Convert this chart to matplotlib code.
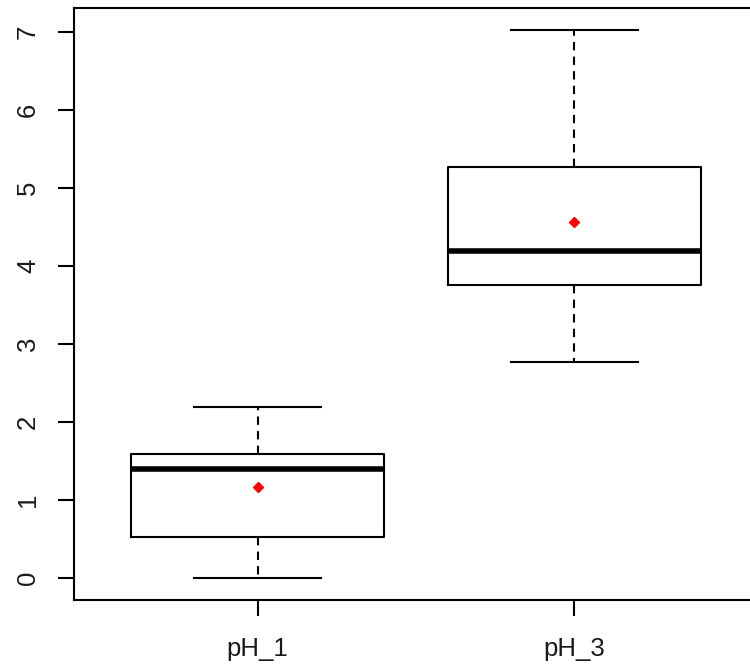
import matplotlib
matplotlib.use("Agg")
import matplotlib.pyplot as plt

plt.rcParams['font.family'] = ['Liberation Sans', 'DejaVu Sans']

# five-number summaries
labels = ["pH_1", "pH_3"]
whislo = [0.0, 2.77]
q1 = [0.53, 3.76]
med = [1.40, 4.20]
q3 = [1.59, 5.27]
whishi = [2.20, 7.03]
means = [1.17, 4.56]

stats = []
for i in range(len(labels)):
    stats.append(dict(label=labels[i], whislo=whislo[i], q1=q1[i], med=med[i],
                      q3=q3[i], whishi=whishi[i], mean=means[i], fliers=[]))

fig = plt.figure(figsize=(7.5, 6.67), dpi=100)
ax = fig.add_axes([74 / 750, 67 / 667, 684 / 750, 592 / 667])

ax.bxp(stats, positions=[1, 2], widths=0.8, showmeans=True, showfliers=False,
       boxprops=dict(color="black", linewidth=1.5),
       medianprops=dict(color="black", linewidth=4),
       whiskerprops=dict(color="black", linewidth=1.5, linestyle=(0, (4, 3))),
       capprops=dict(color="black", linewidth=1.5),
       capwidths=0.4,
       meanprops=dict(marker="D", markerfacecolor="red", markeredgecolor="red",
                      markersize=5.5))

ax.set_xlim(0.42, 2.58)
ax.set_ylim(-0.281, 7.31)
ax.set_yticks(range(0, 8))

for s in ax.spines.values():
    s.set_linewidth(1.5)

ax.tick_params(axis="both", length=11.5, width=1.5, labelsize=18.5,
               labelcolor="#1a1a1a")
ax.tick_params(axis="x", pad=15)
ax.tick_params(axis="y", pad=13)
for t in ax.get_yticklabels():
    t.set_rotation(90)
    t.set_va("center")

fig.savefig("out.png", dpi=100)
